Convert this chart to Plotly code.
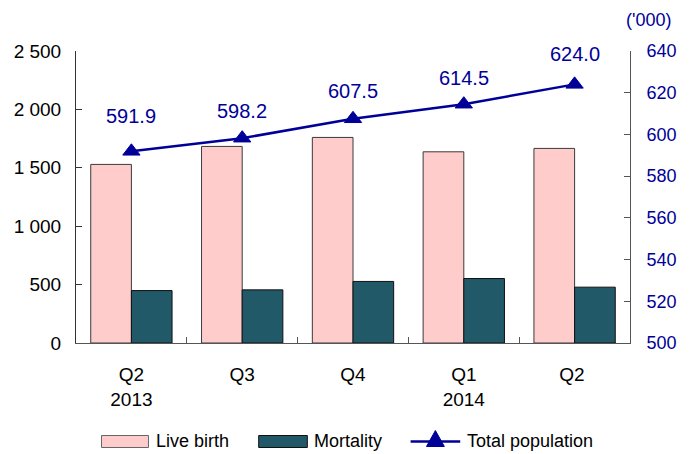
import plotly.graph_objects as go

categories = ["Q2<br>2013", "Q3", "Q4", "Q1<br>2014", "Q2 "]
live_birth = [1529, 1683, 1760, 1637, 1666]
mortality = [449, 455, 527, 552, 478]
total_population = [591.9, 598.2, 607.5, 614.5, 624.0]
left_ticks = [0, 500, 1000, 1500, 2000, 2500]
right_ticks = [500, 520, 540, 560, 580, 600, 620, 640]
label_shifts = [35, 27, 28, 26, 30]

PINK = "#FFCCCC"
TEAL = "#215968"
NAVY = "#000099"
FONT = "Liberation Sans, Arial, sans-serif"

W, H = 689, 454
L, R, T, B = 76, 634, 50.7, 343.3


def px(x):
    return (x - L) / (R - L)


def py(y):
    return (B - y) / (B - T)


fig = go.Figure()
fig.add_trace(go.Bar(x=categories, y=live_birth, name="Live birth",
                     marker=dict(color=PINK, line=dict(color="#3a3a3a", width=1)),
                     showlegend=False))
fig.add_trace(go.Bar(x=categories, y=mortality, name="Mortality",
                     marker=dict(color=TEAL, line=dict(color="#111111", width=1)),
                     showlegend=False))
fig.add_trace(go.Scatter(x=categories, y=total_population, name="Total population",
                         yaxis="y2", mode="lines+markers",
                         line=dict(color=NAVY, width=2.5),
                         marker=dict(symbol="triangle-up", size=15, color=NAVY,
                                     line=dict(color=NAVY, width=1)),
                         showlegend=False))

annotations = []
for c, v, s in zip(categories, total_population, label_shifts):
    annotations.append(dict(x=c, y=v, yref="y2", xref="x", text=f"{v:.1f}",
                            showarrow=False, yshift=s,
                            font=dict(size=20, color=NAVY, family=FONT)))
annotations.append(dict(x=px(653), y=py(20), xref="paper", yref="paper",
                        xanchor="center", yanchor="middle",
                        text="('000)", showarrow=False,
                        font=dict(size=18, color=NAVY, family=FONT)))

# custom legend
shapes = []
ly = 442
shapes.append(dict(type="rect", xref="paper", yref="paper",
                   x0=px(101.7), x1=px(149), y0=py(ly - 6), y1=py(ly + 6),
                   fillcolor=PINK, line=dict(color="#666666", width=1)))
shapes.append(dict(type="rect", xref="paper", yref="paper",
                   x0=px(260), x1=px(309), y0=py(ly - 6), y1=py(ly + 6),
                   fillcolor=TEAL, line=dict(color="#111111", width=1)))
shapes.append(dict(type="line", xref="paper", yref="paper",
                   x0=px(413), x1=px(463), y0=py(ly), y1=py(ly),
                   line=dict(color=NAVY, width=2.5)))
tx, ty = 438, ly
shapes.append(dict(type="path", xref="paper", yref="paper",
                   path=f"M{px(tx-9)},{py(ty+5)} L{px(tx+9)},{py(ty+5)} L{px(tx)},{py(ty-11)} Z",
                   fillcolor=NAVY, line=dict(color=NAVY, width=1)))
for xx, label in [(155, "Live birth"), (314, "Mortality"), (468, "Total population")]:
    annotations.append(dict(x=px(xx), y=py(ly), xref="paper", yref="paper",
                            xanchor="left", yanchor="middle", text=label,
                            showarrow=False,
                            font=dict(size=18, color="#000000", family=FONT)))

fig.update_layout(
    width=W, height=H,
    margin=dict(l=L, r=W - R, t=T, b=H - B, pad=0),
    paper_bgcolor="white", plot_bgcolor="white",
    barmode="group", bargap=0.266, bargroupgap=0,
    separators=". ",
    font=dict(family=FONT, size=19, color="#000000"),
    xaxis=dict(type="category", showline=True, linecolor="#555555", linewidth=1,
               ticks="inside", tickson="boundaries", ticklen=6, tickcolor="#555555",
               showgrid=False, ticklabelstandoff=14,
               tickfont=dict(size=19, color="#000000")),
    yaxis=dict(range=[0, 2500], tickvals=left_ticks, tickformat=",d",
               showline=True, linecolor="#333333", linewidth=1,
               ticks="inside", ticklen=6, tickcolor="#333333",
               showgrid=False, zeroline=False, ticklabelstandoff=10,
               tickfont=dict(size=19, color="#000000")),
    yaxis2=dict(range=[500, 640], tickvals=right_ticks, overlaying="y", side="right",
                showline=True, linecolor="#555555", linewidth=1,
                ticks="inside", ticklen=6, tickcolor="#555555",
                showgrid=False, zeroline=False, ticklabelstandoff=12,
                tickfont=dict(size=18, color=NAVY)),
    annotations=annotations,
    shapes=shapes,
    showlegend=False,
)

fig.write_html("out.html", config={"displayModeBar": False},
               post_script="document.body.style.margin='0';document.body.style.overflow='hidden';")
